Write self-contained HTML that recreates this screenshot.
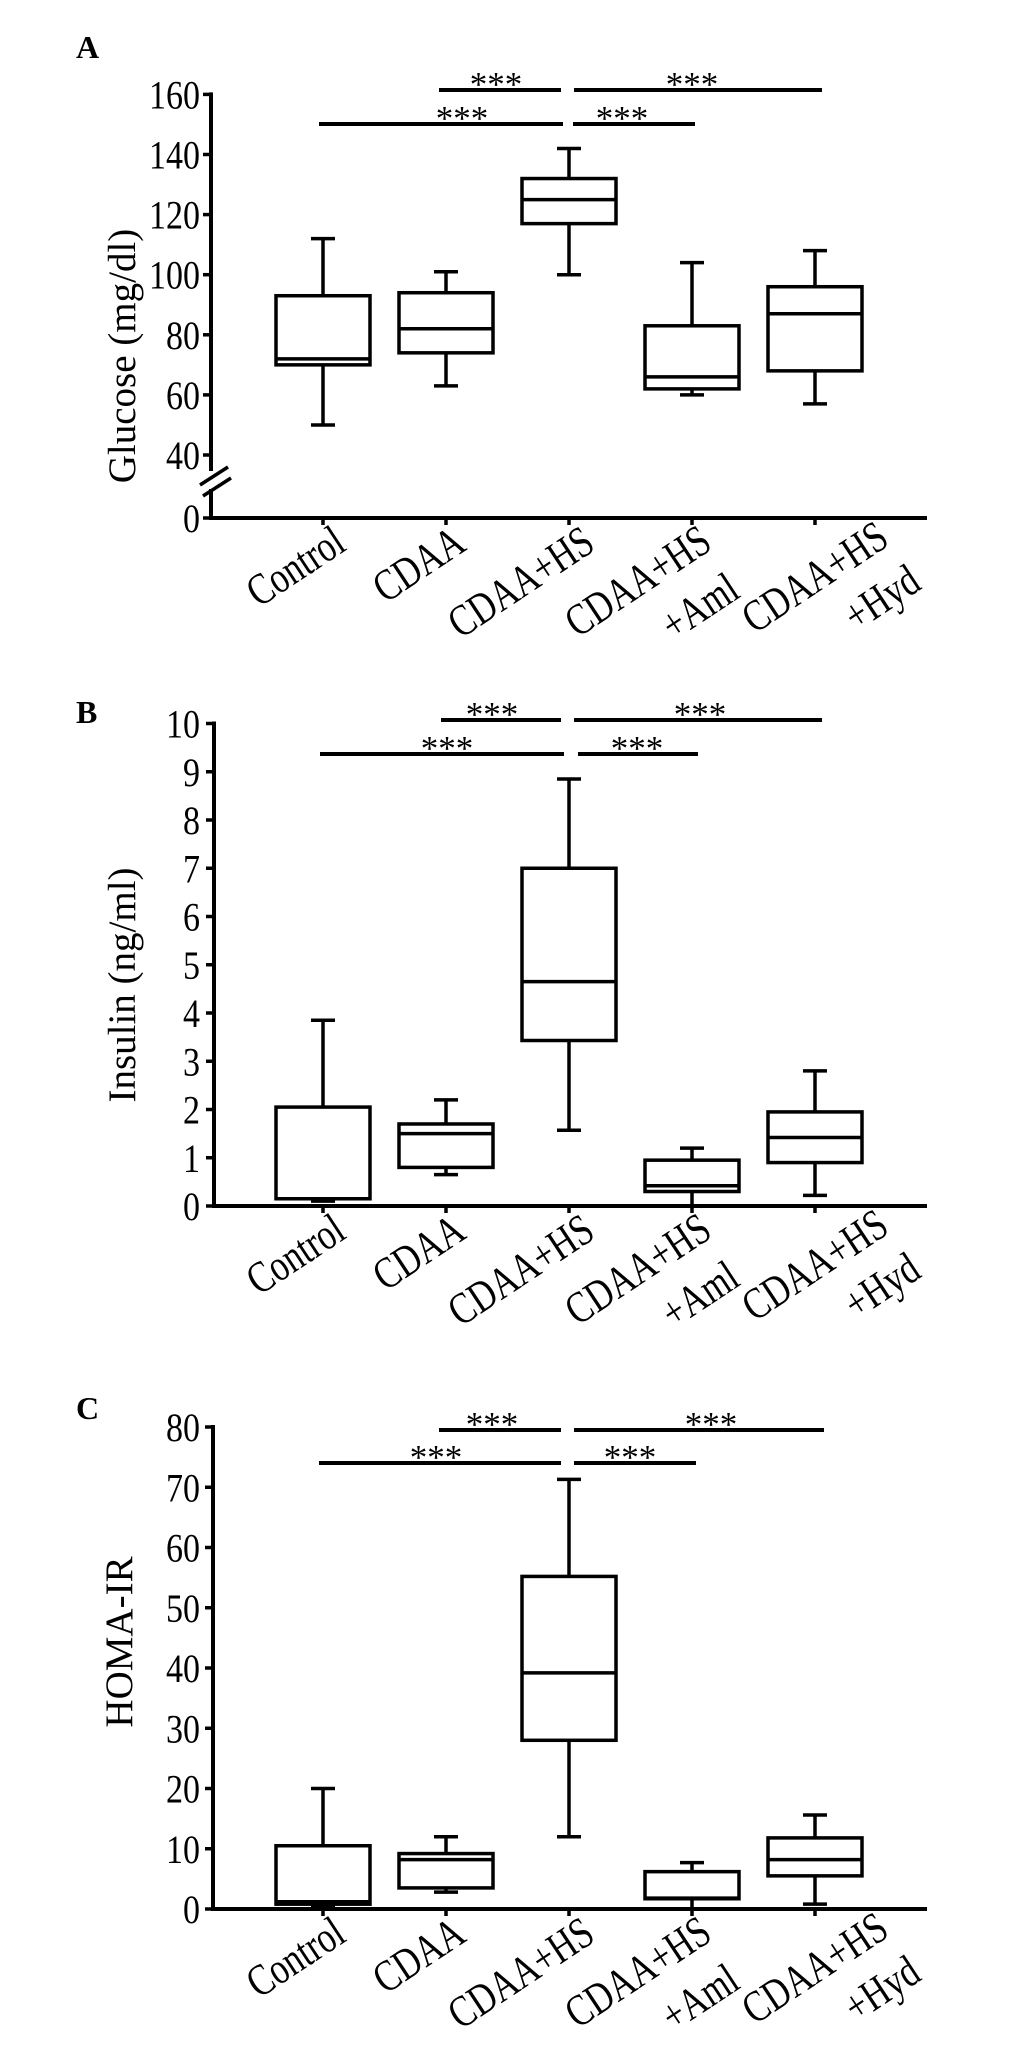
<!DOCTYPE html>
<html><head><meta charset="utf-8"><style>
html,body{margin:0;padding:0;background:#fff;}
svg{display:block;}
text{font-family:"Liberation Serif","DejaVu Serif",serif;fill:#000;}
</style></head><body>
<svg id="fig" xmlns="http://www.w3.org/2000/svg" width="1033" height="2053" viewBox="0 0 1033 2053">
<rect width="1033" height="2053" fill="#fff"/>
</svg>
<script>
const categories = ["Control","CDAA","CDAA+HS","CDAA+HS|+Aml","CDAA+HS|+Hyd"];
// Panel A – Glucose
const glucoseMin = [50, 63, 100, 60, 57];
const glucoseQ1  = [70, 74, 117, 62, 68];
const glucoseMed = [72, 82, 125, 66, 87];
const glucoseQ3  = [93, 94, 132, 83, 96];
const glucoseMax = [112, 101, 142, 104, 108];
const glucoseTicks = [0, 40, 60, 80, 100, 120, 140, 160];
// Panel B – Insulin
const insulinMin = [0.1, 0.65, 1.57, 0.0, 0.22];
const insulinQ1  = [0.15, 0.8, 3.43, 0.3, 0.9];
const insulinMed = [0.15, 1.5, 4.65, 0.42, 1.42];
const insulinQ3  = [2.05, 1.7, 7.0, 0.95, 1.95];
const insulinMax = [3.85, 2.2, 8.85, 1.2, 2.8];
const insulinTicks = [0,1,2,3,4,5,6,7,8,9,10];
// Panel C – HOMA-IR
const homaMin = [0.3, 2.8, 12, 0, 0.8];
const homaQ1  = [0.8, 3.5, 28, 1.7, 5.5];
const homaMed = [1.2, 8.2, 39.2, 1.8, 8.2];
const homaQ3  = [10.5, 9.2, 55.2, 6.2, 11.8];
const homaMax = [20, 12, 71.3, 7.7, 15.6];
const homaTicks = [0,10,20,30,40,50,60,70,80];

const NS = "http://www.w3.org/2000/svg";
const svg = document.getElementById("fig");
function mk(tag, attrs, parent){
  const e = document.createElementNS(NS, tag);
  for (const k in attrs) e.setAttribute(k, attrs[k]);
  (parent||svg).appendChild(e);
  return e;
}
function xPos(i){ return 323 + i*123; }

const lblOff1 = [[25,31],[22,31],[28,31],[22,30],[76,26]];
const lblOff2 = [null,null,null,[50,78],[108,70]];
const M = "0.834 -0.552 0.7 1.06";

function panel(p){
  const g = mk("g", {});
  
  
  const L = mk("text", {x:76, y:p.letterY, "font-size":32, "font-weight":"bold"}, g);
  L.textContent = p.letter;
  
  
  if (p.brk){
    const a1 = mk("line", {x1:p.ax, y1:p.y(p.ticks[p.ticks.length-1])-2, x2:p.ax, y2:471, stroke:"#000","stroke-width":4}, g);
    
    
    mk("line", {x1:p.ax, y1:489, x2:p.ax, y2:p.axisY, stroke:"#000","stroke-width":4}, g);
    const b1 = mk("line", {x1:200, y1:485, x2:228, y2:467, stroke:"#000","stroke-width":3.5}, g);
    
    
    mk("line", {x1:203, y1:496, x2:231, y2:478, stroke:"#000","stroke-width":3.5}, g);
  } else {
    const a1 = mk("line", {x1:p.ax, y1:p.y(p.ticks[p.ticks.length-1])-2, x2:p.ax, y2:p.axisY, stroke:"#000","stroke-width":4}, g);
    
    
  }
  const xa = mk("line", {x1:p.ax-2, y1:p.axisY, x2:927, y2:p.axisY, stroke:"#000","stroke-width":4}, g);
  
  
  p.ticks.forEach(t=>{
    const yy = p.y(t);
    mk("line", {x1:p.ax-8, y1:yy, x2:p.ax, y2:yy, stroke:"#000","stroke-width":3.5}, g);
    const tx = mk("text", {transform:`translate(200,${yy+14}) scale(0.85,1)`, "font-size":40, "text-anchor":"end"}, g);
    tx.textContent = t;
    
    
  });
  const yt = mk("text", {transform:`translate(${p.titleX},${p.titleY}) rotate(-90)`, "font-size":39, "text-anchor":"middle"}, g);
  yt.textContent = p.title;
  
  
  categories.forEach((c,i)=>{
    const cx = xPos(i);
    mk("line", {x1:cx, y1:p.axisY, x2:cx, y2:p.axisY+7, stroke:"#000","stroke-width":3.5}, g);
    const bg = mk("g", {fill:"none", stroke:"#000", "stroke-width":3.5}, g);
    
    
    const yMin=p.y(p.mn[i]), yQ1=p.y(p.q1[i]), yMed=p.y(p.md[i]), yQ3=p.y(p.q3[i]), yMax=p.y(p.mx[i]);
    mk("line", {x1:cx, y1:yMax, x2:cx, y2:yQ3}, bg);
    mk("line", {x1:cx, y1:yQ1, x2:cx, y2:yMin}, bg);
    mk("line", {x1:cx-12, y1:yMax, x2:cx+12, y2:yMax}, bg);
    mk("line", {x1:cx-12, y1:yMin, x2:cx+12, y2:yMin}, bg);
    mk("rect", {x:cx-47, y:yQ3, width:94, height:Math.max(yQ1-yQ3,0.5), fill:"#fff"}, bg);
    mk("line", {x1:cx-47, y1:yMed, x2:cx+47, y2:yMed}, bg);
    const parts = c.split('|');
    const o1 = lblOff1[i];
    const t1 = mk("text", {transform:`matrix(${M} ${cx+o1[0]} ${p.axisY+o1[1]})`, "font-size":35, "text-anchor":"end"}, g);
    t1.textContent = parts[0];
    
    
    if (parts[1]){
      const o2 = lblOff2[i];
      const t2 = mk("text", {transform:`matrix(${M} ${cx+o2[0]} ${p.axisY+o2[1]})`, "font-size":35, "text-anchor":"end"}, g);
      t2.textContent = parts[1];
      
      
    }
  });
  p.sig.forEach(s=>{
    const l = mk("line", {x1:s[0], y1:s[2], x2:s[1], y2:s[2], stroke:"#000","stroke-width":4}, g);
    
    
    const t = mk("text", {x:s[3], y:s[2]+6, "font-size":35, "text-anchor":"middle"}, g);
    t.textContent = "***";
    
    
  });
}

panel({
  name:"glucose-panel", letter:"A", letterY:58, ax:211, axisY:518, brk:true,
  y:v=> v<40 ? 518 - v*(63/40) : 455 - (v-40)*3.005,
  ticks:glucoseTicks, title:"Glucose (mg/dl)", titleX:135, titleY:356,
  mn:glucoseMin,q1:glucoseQ1,md:glucoseMed,q3:glucoseQ3,mx:glucoseMax,
  sig:[[439,561,90,496],[574,822,90,692],[319,563,124,462],[573,695,124,622]]
});
panel({
  name:"insulin-panel", letter:"B", letterY:723, ax:214, axisY:1206, brk:false,
  y:v=> 1206 - v*48.25,
  ticks:insulinTicks, title:"Insulin (ng/ml)", titleX:135, titleY:985,
  mn:insulinMin,q1:insulinQ1,md:insulinMed,q3:insulinQ3,mx:insulinMax,
  sig:[[441,561,720,492],[574,822,720,700],[320,564,754,447],[578,698,754,637]]
});
panel({
  name:"homa-ir-panel", letter:"C", letterY:1419, ax:213, axisY:1909, brk:false,
  y:v=> 1909 - v*6.025,
  ticks:homaTicks, title:"HOMA-IR", titleX:132, titleY:1642,
  mn:homaMin,q1:homaQ1,md:homaMed,q3:homaQ3,mx:homaMax,
  sig:[[439,561,1430,492],[574,824,1430,711],[319,561,1463,436],[574,696,1463,630]]
});
</script>
</body></html>
